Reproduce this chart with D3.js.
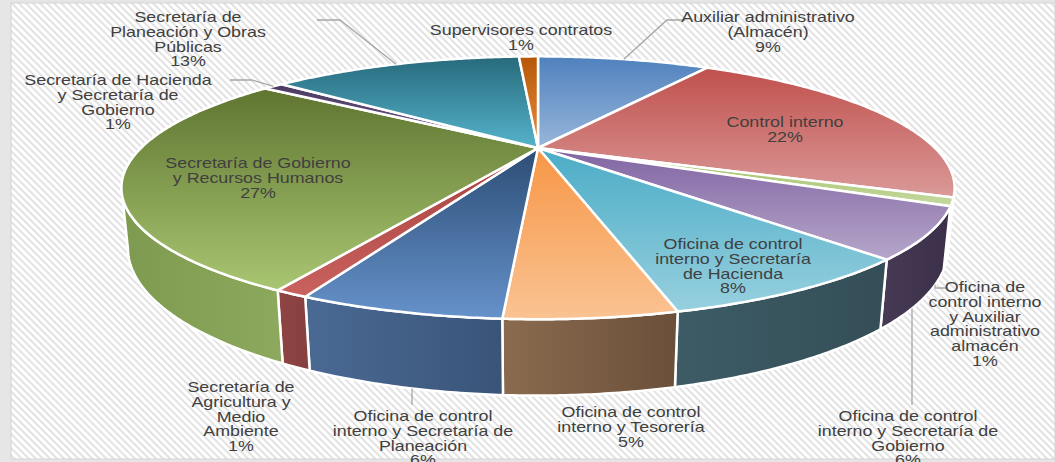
<!DOCTYPE html>
<html>
<head>
<meta charset="utf-8">
<script src="https://cdn.jsdelivr.net/npm/d3@7/dist/d3.min.js"></script>
<style>
  html, body { margin: 0; padding: 0; background: #fff; }
  svg { display: block; }
</style>
</head>
<body>
<svg id="chart" width="1055" height="462"></svg>
<script>
// ---- data ----
const categories = [
  "Auxiliar administrativo (Almacén)",
  "Control interno",
  "Oficina de control interno y Auxiliar administrativo almacén",
  "Oficina de control interno y Secretaría de Gobierno",
  "Oficina de control interno y Secretaría de Hacienda",
  "Oficina de control interno y Tesorería",
  "Oficina de control interno y Secretaría de Planeación",
  "Secretaría de Agricultura y Medio Ambiente",
  "Secretaría de Gobierno y Recursos Humanos",
  "Secretaría de Hacienda y Secretaría de Gobierno",
  "Secretaría de Planeación y Obras Públicas",
  "Supervisores contratos",
];
const percentages = [9, 22, 1, 6, 8, 5, 6, 1, 27, 1, 13, 1];

// category names wrapped the way the labels are broken in the picture
const labelLines = [
  ["Auxiliar administrativo", "(Almacén)"],
  ["Control interno"],
  ["Oficina de", "control interno", "y Auxiliar", "administrativo", "almacén"],
  ["Oficina de control", "interno y Secretaría de", "Gobierno"],
  ["Oficina de control", "interno y Secretaría", "de Hacienda"],
  ["Oficina de control", "interno y Tesorería"],
  ["Oficina de control", "interno y Secretaría de", "Planeación"],
  ["Secretaría de", "Agricultura y", "Medio", "Ambiente"],
  ["Secretaría de Gobierno", "y Recursos Humanos"],
  ["Secretaría de Hacienda", "y Secretaría de", "Gobierno"],
  ["Secretaría de", "Planeación y Obras", "Públicas"],
  ["Supervisores contratos"],
];

// ---- styles ----
const topDark = ["#4F81BD", "#C0504D", "#9BBB59", "#8064A2", "#4BACC6", "#F79646",
  "#2C4D75", "#A8423F", "#5F7530", "#4D3B62", "#276A7C", "#B65708"];
const topLight = ["#98B6DA", "#DA9A98", "#C6D9A0", "#B6A6CA", "#97D0DF", "#FAC393",
  "#6692CB", "#C9625F", "#A9C672", "#6E5A88", "#55B3CB", "#EA8C3E"];
const wallLeft = ["#3E6390", "#8E3B39", "#748B42", "#473A55", "#3D5C66", "#8A6B4F",
  "#4A6A94", "#904444", "#7E9A50", "#3A2D4A", "#1F5260", "#8A4206"];
const wallRight = ["#3E6390", "#8E3B39", "#748B42", "#3C2F49", "#344E57", "#6A4F39",
  "#3A5478", "#86403F", "#8CA95D", "#3A2D4A", "#1F5260", "#8A4206"];

// label placement (layout only): block centre x, first-line centre y, leader
const labelLayout = [
  { x: 768, y: 17, via: [[667, 20], [685, 20]] },
  { x: 785, y: 122 },
  { x: 985, y: 287, up: { x: 935, hook: [[947, 288], [935, 288]] } },
  { x: 908, y: 416, up: { x: 912, from: 405 } },
  { x: 733, y: 244 },
  { x: 631, y: 412 },
  { x: 423, y: 416, up: { x: 412, from: 405 } },
  { x: 241, y: 387 },
  { x: 258, y: 163 },
  { x: 118, y: 80, via: [[252, 80], [230, 80]] },
  { x: 188, y: 17, via: [[340, 20], [317, 20]] },
  { x: 521, y: 30 },
];

const W = 1055, H = 462;
const svg = d3.select("#chart").attr("viewBox", `0 0 ${W} ${H}`);
const defs = svg.append("defs");

// background: light frame + hatched chart area
const hatch = defs.append("pattern")
  .attr("id", "hatch")
  .attr("patternUnits", "userSpaceOnUse")
  .attr("width", 5).attr("height", 5)
  .attr("patternTransform", "rotate(-45)");
hatch.append("rect").attr("width", 5).attr("height", 5).attr("fill", "#ffffff");
hatch.append("rect").attr("width", 2).attr("height", 5).attr("fill", "#E2E2E2");

svg.append("rect").attr("width", W).attr("height", H).attr("fill", "#E6E6E6");
svg.append("rect")
  .attr("x", 11).attr("y", 3).attr("width", W - 11).attr("height", 456)
  .attr("fill", "url(#hatch)")
  .attr("stroke", "#D4D4D4").attr("stroke-width", 1);

// ---- 3D projection of the pie ----
const cx = 538, cy = 148, R = 397;
const elev = 17.5 * Math.PI / 180;
const sinE = Math.sin(elev), cosE = Math.cos(elev);
const dist = 3.15;   // camera distance (perspective)
const thick = 0.15;  // slab thickness

function project(theta, r, level) {
  const X = r * Math.sin(theta);
  const Z = -r * Math.cos(theta);
  const Y = -thick * level;
  const down = Z * sinE - Y * cosE;
  const depth = Z * cosE + Y * sinE;
  const f = dist / (dist - depth);
  return [cx + R * X * f, cy + R * down * f];
}

const step = Math.PI / 360;
function rim(a0, a1, level) {
  const n = Math.max(2, Math.ceil((a1 - a0) / step));
  return d3.range(n + 1).map((i) => project(a0 + ((a1 - a0) * i) / n, 1, level));
}

// front-facing part of the outer wall
const visR = Math.acos(-cosE / dist);
const visL = 2 * Math.PI - visR;

const arcs = d3.pie().sort(null).value((d) => d)(percentages);
const line = d3.line();

arcs.forEach((a, i) => {
  const gt = defs.append("linearGradient").attr("id", `top-${i}`)
    .attr("x1", 0).attr("y1", 0).attr("x2", 0).attr("y2", 1);
  gt.append("stop").attr("offset", "0%").attr("stop-color", topDark[i]);
  gt.append("stop").attr("offset", "100%").attr("stop-color", topLight[i]);
  const gw = defs.append("linearGradient").attr("id", `wall-${i}`)
    .attr("x1", 0).attr("y1", 0).attr("x2", 1).attr("y2", 0);
  gw.append("stop").attr("offset", "0%").attr("stop-color", wallLeft[i]);
  gw.append("stop").attr("offset", "100%").attr("stop-color", wallRight[i]);
});

const wallsLayer = svg.append("g").attr("class", "walls");
const topsLayer = svg.append("g").attr("class", "tops");
const leaderLayer = svg.append("g").attr("class", "leaders");
const labelLayer = svg.append("g").attr("class", "labels");

const walls = arcs
  .map((a, i) => ({ i, a0: Math.max(a.startAngle, visR), a1: Math.min(a.endAngle, visL) }))
  .filter((w) => w.a1 > w.a0);

wallsLayer.selectAll("path.wall")
  .data(walls)
  .join("path")
  .attr("class", "wall")
  .attr("d", (w) => line(rim(w.a0, w.a1, 0).concat(rim(w.a0, w.a1, 1).reverse())) + "Z")
  .attr("fill", (w) => `url(#wall-${w.i})`)
  .attr("stroke", "#ffffff")
  .attr("stroke-width", 2.5)
  .attr("stroke-linejoin", "round");

const apex = project(0, 0, 0);
topsLayer.selectAll("path.top")
  .data(arcs)
  .join("path")
  .attr("class", "top")
  .attr("d", (a) => line([apex].concat(rim(a.startAngle, a.endAngle, 0))) + "Z")
  .attr("fill", (a, i) => `url(#top-${i})`)
  .attr("stroke", "#ffffff")
  .attr("stroke-width", 2.5)
  .attr("stroke-linejoin", "round");

// bottom silhouette y at a given screen x (front half)
function bottomAt(x) {
  let best = null;
  for (let t = visR; t <= visL; t += step / 2) {
    const p = project(t, 1, 1);
    if (!best || Math.abs(p[0] - x) < Math.abs(best[0] - x)) best = p;
  }
  return best[1];
}

// ---- leader lines ----
const leaders = [];
arcs.forEach((a, i) => {
  const L = labelLayout[i];
  if (L.via) {
    const start = project((a.startAngle + a.endAngle) / 2, 1, 0);
    leaders.push([start].concat(L.via));
  } else if (L.up) {
    const topY = bottomAt(L.up.x);
    if (L.up.hook) leaders.push(L.up.hook.concat([[L.up.x, topY]]));
    else leaders.push([[L.up.x, L.up.from], [L.up.x, topY]]);
  }
});

leaderLayer.selectAll("path")
  .data(leaders)
  .join("path")
  .attr("d", (pts) => line(pts))
  .attr("fill", "none")
  .attr("stroke", "#A6A6A6")
  .attr("stroke-width", 1.3);

// ---- labels ----
const lineH = 14.8;
const labels = labelLayer.selectAll("text")
  .data(arcs)
  .join("text")
  .attr("transform", (a, i) => `translate(${labelLayout[i].x},${labelLayout[i].y}) scale(1.23,1)`)
  .attr("text-anchor", "middle")
  .attr("font-family", "'Liberation Sans', Arial, sans-serif")
  .attr("font-size", 14.5)
  .attr("fill", "#404040");

labels.selectAll("tspan")
  .data((a, i) => labelLines[i].concat([`${percentages[i]}%`]))
  .join("tspan")
  .attr("x", 0)
  .attr("y", (d, k) => k * lineH)
  .attr("dy", "0.35em")
  .text((d) => d);
</script>
</body>
</html>
